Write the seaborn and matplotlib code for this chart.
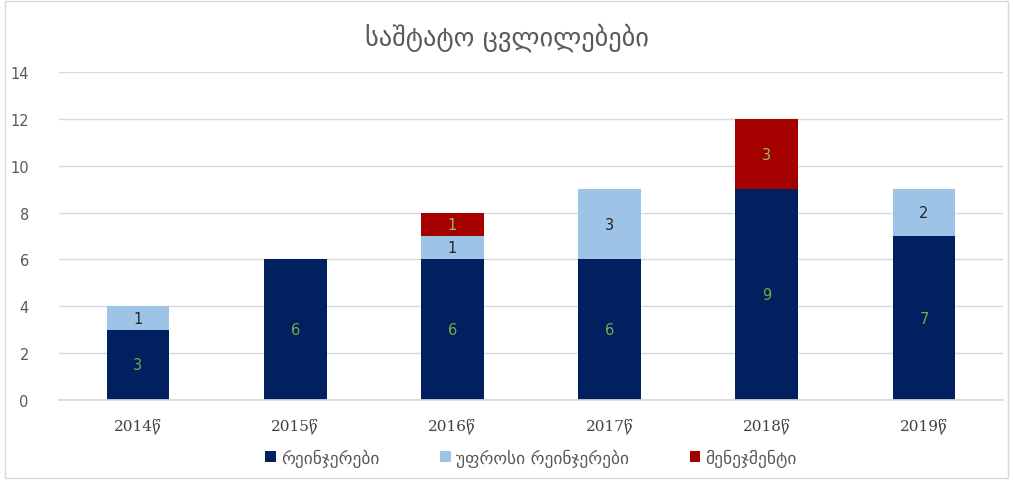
import numpy as np
import pandas as pd
import matplotlib
matplotlib.use('Agg')
import matplotlib.pyplot as plt
import seaborn as sns

## Data
years    = ['2014წ', '2015წ', '2016წ', '2017წ', '2018წ', '2019წ']
rangers  = [3, 6, 6, 6, 9, 7]
seniors  = [1, 0, 1, 3, 0, 2]
managers = [0, 0, 1, 0, 3, 0]
labels   = ['რეინჯერები', 'უფროსი რეინჯერები', 'მენეჯმენტი']
colors   = ['#002060', '#9DC3E6', '#A50000']
txtcols  = ['#70AD47', '#262626', '#9BBB59']
title    = 'საშტატო ცვლილებები'

df = pd.DataFrame({'year': years, 'r': rangers, 's': seniors, 'm': managers})

sns.set_theme(style='white')
plt.rcParams['font.family'] = ['DejaVu Sans']

fig = plt.figure(figsize=(10.13, 4.81), dpi=100)
ax = fig.add_axes([0.0586, 0.1663, 0.9311, 0.6819])

## Stacked bars
bottom = np.zeros(len(years))
for col, lab, c, tc in zip(['r', 's', 'm'], labels, colors, txtcols):
    sns.barplot(data=df, x='year', y=col, color=c, width=0.4, bottom=bottom,
                label=lab, ax=ax, saturation=1, edgecolor='none')
    for i, v in enumerate(df[col]):
        if v > 0:
            ax.text(i, bottom[i] + v / 2, str(v), ha='center', va='center',
                    color=tc, fontsize=10.5)
    bottom = bottom + df[col].values

## Axes customization
ax.set_ylim(0, 14)
ax.set_xlim(-0.5, 5.5)
ax.set_yticks(range(0, 15, 2))
ax.yaxis.grid(True, color='#D9D9D9', linewidth=1)
ax.set_axisbelow(True)
for sp in ['top', 'right', 'left']:
    ax.spines[sp].set_visible(False)
ax.spines['bottom'].set_color('#D9D9D9')
ax.tick_params(axis='y', length=0, pad=22, labelsize=10.5, labelcolor='#595959')
ax.tick_params(axis='x', length=0, pad=12, labelsize=11, labelcolor='#404040')
for t in ax.get_xticklabels():
    t.set_family(['DejaVu Serif', 'DejaVu Sans'])
ax.set_xlabel('')
ax.set_ylabel('')

fig.text(0.5, 0.922, title, ha='center', va='center', fontsize=19, color='#595959')

ax.legend(loc='center', bbox_to_anchor=(0.5, -0.175), ncol=3, frameon=False,
          handlelength=0.6, handleheight=0.6, handletextpad=0.3, columnspacing=3.5,
          fontsize=12.5, labelcolor='#595959')

## Frame around chart
fig.patches.append(plt.Rectangle((0.005, 0.005), 0.99, 0.99, transform=fig.transFigure,
                                 fill=False, edgecolor='#D9D9D9', linewidth=1))

fig.savefig('out.png', dpi=100)
